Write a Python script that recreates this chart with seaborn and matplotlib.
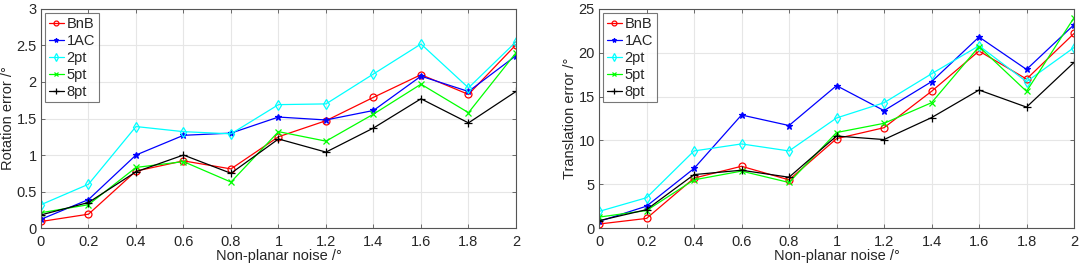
import matplotlib
matplotlib.use('Agg')
import matplotlib.pyplot as plt
import numpy as np
import pandas as pd
import seaborn as sns
from matplotlib.ticker import FuncFormatter

noise = [0, 0.2, 0.4, 0.6, 0.8, 1.0, 1.2, 1.4, 1.6, 1.8, 2.0]
methods = ['BnB', '1AC', '2pt', '5pt', '8pt']

# rotation error (deg)
rot_bnb = [0.09, 0.19, 0.78, 0.92, 0.81, 1.25, 1.47, 1.79, 2.10, 1.83, 2.51]
rot_1ac = [0.12, 0.39, 1.00, 1.27, 1.30, 1.52, 1.48, 1.61, 2.08, 1.87, 2.36]
rot_2pt = [0.32, 0.60, 1.39, 1.32, 1.29, 1.69, 1.70, 2.11, 2.52, 1.92, 2.55]
rot_5pt = [0.21, 0.32, 0.83, 0.91, 0.63, 1.32, 1.19, 1.56, 1.97, 1.58, 2.40]
rot_8pt = [0.18, 0.35, 0.77, 1.00, 0.75, 1.22, 1.04, 1.37, 1.77, 1.44, 1.87]

# translation error (deg)
tr_bnb = [0.46, 1.10, 5.70, 7.05, 5.50, 10.2, 11.45, 15.6, 20.2, 17.0, 22.2]
tr_1ac = [0.76, 2.50, 6.80, 12.9, 11.7, 16.25, 13.4, 16.7, 21.8, 18.1, 23.2]
tr_2pt = [1.90, 3.46, 8.80, 9.60, 8.80, 12.56, 14.3, 17.6, 20.8, 16.7, 20.6]
tr_5pt = [1.25, 2.00, 5.50, 6.50, 5.20, 10.9, 11.95, 14.3, 20.7, 15.6, 24.0]
tr_8pt = [0.84, 2.10, 6.10, 6.60, 5.80, 10.5, 10.1, 12.6, 15.75, 13.8, 18.9]

rot = pd.DataFrame({'noise': noise, 'BnB': rot_bnb, '1AC': rot_1ac,
                    '2pt': rot_2pt, '5pt': rot_5pt, '8pt': rot_8pt})
tr = pd.DataFrame({'noise': noise, 'BnB': tr_bnb, '1AC': tr_1ac,
                   '2pt': tr_2pt, '5pt': tr_5pt, '8pt': tr_8pt})

colors = {'BnB': '#ff0000', '1AC': '#0000ff', '2pt': '#00ffff',
          '5pt': '#00ff00', '8pt': '#000000'}
marks = {'BnB': 'o', '1AC': '*', '2pt': 'd', '5pt': 'x', '8pt': '+'}
filled = {'BnB': False, '1AC': True, '2pt': False, '5pt': True, '8pt': True}
msize = {'BnB': 5, '1AC': 4.5, '2pt': 5.5, '5pt': 4, '8pt': 6}

sns.set_style('white')
plt.rcParams['font.family'] = ['Liberation Sans', 'DejaVu Sans']
plt.rcParams['font.size'] = 10.5

fig = plt.figure(figsize=(10.84, 2.68), dpi=100)
ax1 = fig.add_axes([0.0378, 0.149, 0.4382, 0.8176])
ax2 = fig.add_axes([0.5526, 0.149, 0.4382, 0.8176])

txt = '#262626'


def draw(ax, df, ylim, yticks, ylabel, labx):
    for m in methods:
        c = colors[m]
        sns.lineplot(x='noise', y=m, data=df, ax=ax, color=c, marker=marks[m],
                     markersize=msize[m], markeredgecolor=c,
                     markerfacecolor=c if filled[m] else 'none',
                     markeredgewidth=0.9, linewidth=0.9, label=m)
    ax.set_xlim(0, 2)
    ax.set_ylim(*ylim)
    ax.set_xticks(noise)
    ax.set_yticks(yticks)
    fmt = FuncFormatter(lambda v, p: '%g' % round(v, 2))
    ax.xaxis.set_major_formatter(fmt)
    ax.yaxis.set_major_formatter(fmt)
    ax.grid(True, color='#e6e6e6', linewidth=0.8)
    ax.set_axisbelow(True)
    for s in ax.spines.values():
        s.set_color('#555555')
        s.set_linewidth(0.8)
    ax.tick_params(direction='in', length=3, width=0.6, color='#555555',
                   labelsize=10.5, labelcolor=txt, top=True, right=True,
                   bottom=True, left=True, pad=3)
    ax.tick_params(axis='x', pad=5)
    ax.set_xlabel('Non-planar noise /°', fontsize=10.5, color=txt, labelpad=0)
    ax.set_ylabel(ylabel, fontsize=10.5, color=txt)
    ax.yaxis.set_label_coords(labx, 0.5)
    leg = ax.legend(loc='upper left', frameon=True, fancybox=False,
                    edgecolor='#555555', fontsize=10.5, handlelength=1.0,
                    handletextpad=0.2, borderpad=0.25, labelspacing=0.2,
                    borderaxespad=0.3, markerscale=0.7)
    leg.get_frame().set_linewidth(0.8)


draw(ax1, rot, (0, 3), [0, 0.5, 1, 1.5, 2, 2.5, 3], 'Rotation error /°', -0.055)
draw(ax2, tr, (0, 25), [0, 5, 10, 15, 20, 25], 'Translation error /°', -0.046)

fig.savefig('out.png', dpi=100)
